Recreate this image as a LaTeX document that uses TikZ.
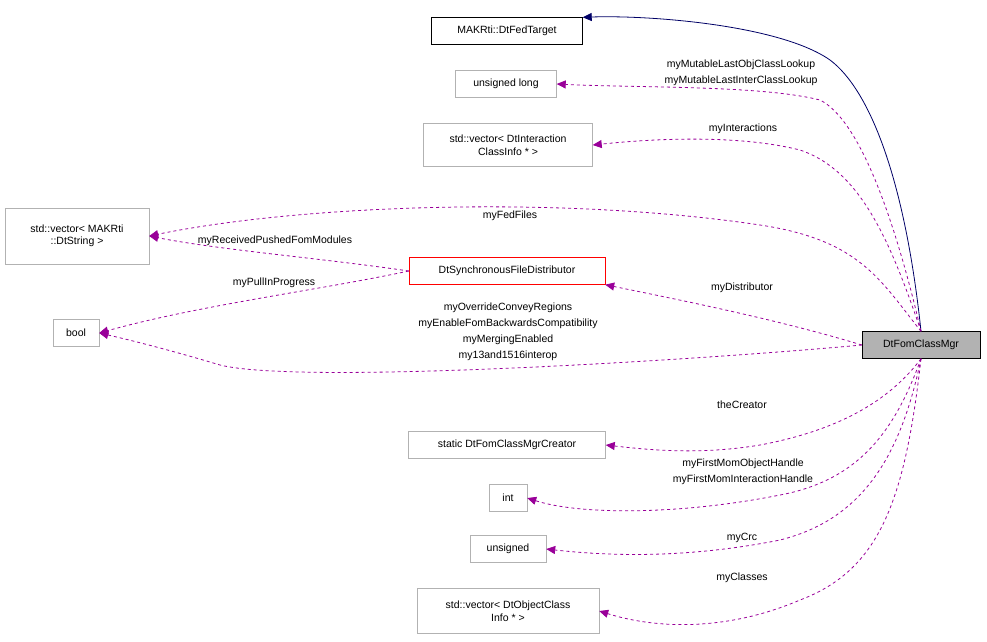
\documentclass[tikz,border=0pt]{standalone}
\usepackage{fontspec}
\setmainfont{Liberation Sans}
\usetikzlibrary{arrows.meta}
\tikzstyle{cls} = [draw=black!30, rectangle, font=\fontsize{10.5}{12.5}\selectfont, align=center, inner sep=2pt, minimum height=27pt]
\tikzstyle{main} = [cls, draw=black, fill=black!30]
\tikzstyle{base} = [cls, draw=black]
\tikzstyle{used} = [-{Triangle[length=9pt,width=8pt]}, draw=violet!80!magenta, dashed, thick]
\tikzstyle{inh} = [-{Triangle[length=9pt,width=8pt]}, draw=blue!40!black, thick]
\tikzstyle{lbl} = [font=\fontsize{10.5}{16}\selectfont, align=center]

\begin{document}
\begin{tikzpicture}[x=1pt, y=-1pt]
    \useasboundingbox (0,0) rectangle (987,641);

    % Nodes.
    \node (mgr) [main, minimum width=118pt] at (921,345) {DtFomClassMgr};
    \node (target) [base, minimum width=151pt] at (507,31) {MAKRti::DtFedTarget};
    \node (ulong) [cls, minimum width=101pt] at (506,84) {unsigned long};
    \node (inter) [cls, minimum width=169pt, minimum height=43pt] at (508,145) {std::vector< DtInteraction\\ClassInfo * >};
    \node (files) [cls, minimum width=144pt, minimum height=56pt] at (77,236) {std::vector< MAKRti\\::DtString >};
    \node (dist) [cls, draw=red, minimum width=196pt] at (507,271) {DtSynchronousFileDistributor};
    \node (bool) [cls, minimum width=46pt] at (76,333) {bool};
    \node (creator) [cls, minimum width=197pt] at (507,445) {static DtFomClassMgrCreator};
    \node (int) [cls, minimum width=38pt] at (508,498) {int};
    \node (uns) [cls, minimum width=76pt] at (508,549) {unsigned};
    \node (objs) [cls, minimum width=182pt, minimum height=45pt] at (508,611) {std::vector< DtObjectClass\\Info * >};

    % Inheritance.
    \draw [inh] (mgr.north) .. controls (905,180) and (870,90) .. (830,60) .. controls (780,25) and (650,15) .. (target.north east);

    % Members.
    \draw [used] (mgr.north) .. controls (895,220) and (860,120) .. (820,100) .. controls (760,85) and (640,88) .. (ulong.east);
    \draw [used] (mgr.north) .. controls (890,240) and (860,170) .. (800,150) .. controls (740,135) and (660,138) .. (inter.east);
    \draw [used] (mgr.north) .. controls (880,280) and (860,240) .. (760,225) .. controls (560,195) and (300,205) .. (files.east);
    \draw [used] (dist.west) .. controls (320,258) and (220,250) .. (files.east);
    \draw [used] (dist.west) .. controls (320,290) and (200,305) .. (bool.east);
    \draw [used] (mgr.west) .. controls (780,320) and (680,300) .. (dist.south east);
    \draw [used] (mgr.west) .. controls (700,360) and (300,385) .. (220,365) .. controls (170,350) and (130,340) .. (bool.east);
    \draw [used] (mgr.south) .. controls (890,400) and (840,430) .. (760,445) .. controls (700,455) and (650,450) .. (creator.east);
    \draw [used] (mgr.south) .. controls (895,430) and (860,480) .. (780,495) .. controls (680,515) and (580,515) .. (int.east);
    \draw [used] (mgr.south) .. controls (900,460) and (860,520) .. (780,540) .. controls (680,560) and (600,555) .. (uns.east);
    \draw [used] (mgr.south) .. controls (905,500) and (880,570) .. (800,600) .. controls (730,630) and (660,630) .. (objs.east);

    % Labels.
    \node (l ulong) [lbl] at (741,73) {myMutableLastObjClassLookup\\myMutableLastInterClassLookup};
    \node (l inter) [lbl] at (743,129) {myInteractions};
    \node (l files) [lbl] at (510,216) {myFedFiles};
    \node (l recv) [lbl] at (275,241) {myReceivedPushedFomModules};
    \node (l pull) [lbl] at (274,283) {myPullInProgress};
    \node (l dist) [lbl] at (742,288) {myDistributor};
    \node (l bool) [lbl] at (508,332) {myOverrideConveyRegions\\myEnableFomBackwardsCompatibility\\myMergingEnabled\\my13and1516interop};
    \node (l creator) [lbl] at (742,405) {theCreator};
    \node (l int) [lbl] at (743,472) {myFirstMomObjectHandle\\myFirstMomInteractionHandle};
    \node (l crc) [lbl] at (742,538) {myCrc};
    \node (l objs) [lbl] at (742,578) {myClasses};
\end{tikzpicture}
\end{document}
